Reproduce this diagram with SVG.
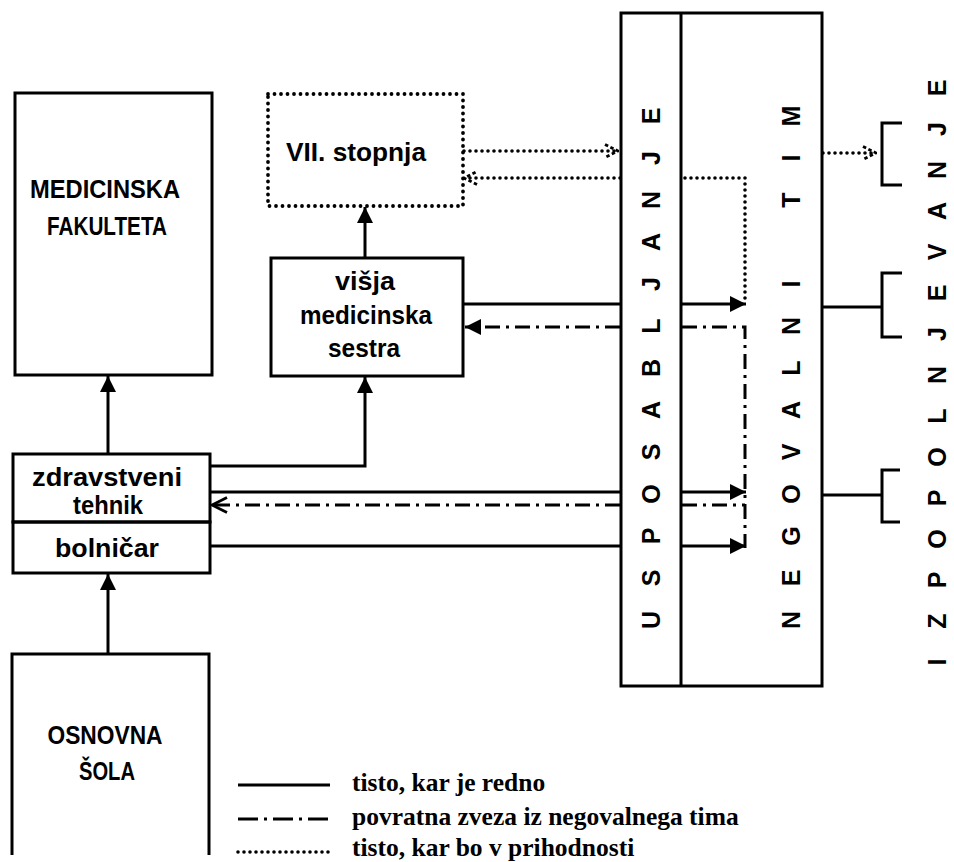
<svg xmlns="http://www.w3.org/2000/svg" width="954" height="862" viewBox="0 0 954 862">
<style>
.bg{fill:#fff}
.box{fill:none;stroke:#000;stroke-width:3}
.dbox{fill:none;stroke:#000;stroke-width:3.8;stroke-dasharray:0 6.5;stroke-linecap:round}
.ln{fill:none;stroke:#000;stroke-width:3}
.dd{fill:none;stroke:#000;stroke-width:3;stroke-dasharray:15 6 3 6}
.dt{fill:none;stroke:#000;stroke-width:3.6;stroke-dasharray:0 6;stroke-linecap:round}
.lbl{font-family:"Liberation Sans","DejaVu Sans",sans-serif;font-weight:bold;font-size:26px;text-anchor:middle;fill:#000}
.vl{font-family:"Liberation Sans","DejaVu Sans",sans-serif;font-weight:bold;font-size:25px;text-anchor:middle;dominant-baseline:central;fill:#000}
.leg{font-family:"Liberation Serif","Times New Roman",serif;font-weight:bold;font-size:25.5px;fill:#000}
</style>
<defs>
<marker id="tri" viewBox="0 0 16 16" refX="16" refY="8" markerWidth="16" markerHeight="16" markerUnits="userSpaceOnUse" orient="auto">
<path d="M0,0 L16,8 L0,16 z" fill="#000"/>
</marker>
<marker id="chev" viewBox="0 0 18 18" refX="17" refY="9" markerWidth="18" markerHeight="18" markerUnits="userSpaceOnUse" orient="auto">
<path d="M2,1.5 L17,9 L2,16.5" fill="none" stroke="#000" stroke-width="2.8"/>
</marker>
<marker id="dchev" viewBox="0 0 16 16" refX="15" refY="8" markerWidth="16" markerHeight="16" markerUnits="userSpaceOnUse" orient="auto">
<path d="M2,1.5 L15,8 L2,14.5" fill="none" stroke="#000" stroke-width="2.8" stroke-dasharray="3.5 2.5"/>
</marker>
</defs>
<rect class="bg" x="0" y="0" width="954" height="862"/>

<g id="medicinska-fakulteta">
<rect class="box" x="15" y="93" width="197" height="282"/>
<text class="lbl" x="105" y="198" textLength="150" lengthAdjust="spacingAndGlyphs">MEDICINSKA</text>
<text class="lbl" x="107" y="235" textLength="120" lengthAdjust="spacingAndGlyphs">FAKULTETA</text>
</g>

<g id="vii-stopnja">
<rect class="dbox" x="268" y="94" width="195" height="112"/>
<text class="lbl" x="356" y="161" textLength="140" lengthAdjust="spacingAndGlyphs">VII. stopnja</text>
</g>

<g id="visja-medicinska-sestra">
<rect class="box" x="271" y="258" width="192" height="118"/>
<text class="lbl" x="365" y="290" textLength="60" lengthAdjust="spacingAndGlyphs">višja</text>
<text class="lbl" x="366" y="324" textLength="132" lengthAdjust="spacingAndGlyphs">medicinska</text>
<text class="lbl" x="364" y="357" textLength="72" lengthAdjust="spacingAndGlyphs">sestra</text>
</g>

<g id="zdravstveni-tehnik">
<rect class="box" x="13" y="454" width="197" height="68"/>
<text class="lbl" x="107" y="486" textLength="150" lengthAdjust="spacingAndGlyphs">zdravstveni</text>
<text class="lbl" x="108" y="514" textLength="70" lengthAdjust="spacingAndGlyphs">tehnik</text>
</g>

<g id="bolnicar">
<rect class="box" x="13" y="522" width="197" height="51"/>
<text class="lbl" x="107" y="557" textLength="104" lengthAdjust="spacingAndGlyphs">bolničar</text>
</g>

<g id="osnovna-sola">
<path class="box" d="M12,855 V654 H209 V855"/>
<text class="lbl" x="105" y="744" textLength="115" lengthAdjust="spacingAndGlyphs">OSNOVNA</text>
<text class="lbl" x="107" y="780" textLength="56" lengthAdjust="spacingAndGlyphs">ŠOLA</text>
</g>

<g id="usposabljanje-negovalni-tim">
<rect class="box" x="621" y="13" width="201" height="673"/>
<line class="ln" x1="681" y1="13" x2="681" y2="686"/>
<g class="vl">
<text transform="translate(651,620) rotate(-90)">U</text>
<text transform="translate(651,578) rotate(-90)">S</text>
<text transform="translate(651,536) rotate(-90)">P</text>
<text transform="translate(651,494) rotate(-90)">O</text>
<text transform="translate(651,452) rotate(-90)">S</text>
<text transform="translate(651,410) rotate(-90)">A</text>
<text transform="translate(651,368) rotate(-90)">B</text>
<text transform="translate(651,326) rotate(-90)">L</text>
<text transform="translate(651,284) rotate(-90)">J</text>
<text transform="translate(651,242) rotate(-90)">A</text>
<text transform="translate(651,200) rotate(-90)">N</text>
<text transform="translate(651,158) rotate(-90)">J</text>
<text transform="translate(651,116) rotate(-90)">E</text>
<text transform="translate(791,620) rotate(-90)">N</text>
<text transform="translate(791,578) rotate(-90)">E</text>
<text transform="translate(791,536) rotate(-90)">G</text>
<text transform="translate(791,494) rotate(-90)">O</text>
<text transform="translate(791,452) rotate(-90)">V</text>
<text transform="translate(791,410) rotate(-90)">A</text>
<text transform="translate(791,368) rotate(-90)">L</text>
<text transform="translate(791,326) rotate(-90)">N</text>
<text transform="translate(791,284) rotate(-90)">I</text>
<text transform="translate(791,200) rotate(-90)">T</text>
<text transform="translate(791,158) rotate(-90)">I</text>
<text transform="translate(791,116) rotate(-90)">M</text>
</g>
</g>

<g id="izpopolnjevanje">
<path class="ln" d="M902,123 H882 V185 H902"/>
<path class="ln" d="M902,273 H882 V337 H902"/>
<path class="ln" d="M900,470 H882 V522 H900"/>
<g class="vl">
<text transform="translate(937,662) rotate(-90)">I</text>
<text transform="translate(937,621) rotate(-90)">Z</text>
<text transform="translate(937,580) rotate(-90)">P</text>
<text transform="translate(937,539) rotate(-90)">O</text>
<text transform="translate(937,498) rotate(-90)">P</text>
<text transform="translate(937,457) rotate(-90)">O</text>
<text transform="translate(937,416) rotate(-90)">L</text>
<text transform="translate(937,375) rotate(-90)">N</text>
<text transform="translate(937,334) rotate(-90)">J</text>
<text transform="translate(937,293) rotate(-90)">E</text>
<text transform="translate(937,252) rotate(-90)">V</text>
<text transform="translate(937,211) rotate(-90)">A</text>
<text transform="translate(937,170) rotate(-90)">N</text>
<text transform="translate(937,129) rotate(-90)">J</text>
<text transform="translate(937,88) rotate(-90)">E</text>
</g>
</g>

<g id="connectors">
<path class="ln" d="M108,454 V376" marker-end="url(#tri)"/>
<path class="ln" d="M108,654 V574" marker-end="url(#tri)"/>
<path class="ln" d="M365,258 V207" marker-end="url(#tri)"/>
<path class="ln" d="M211,466 H365 V377" marker-end="url(#tri)"/>
<path class="ln" d="M463,304 H620"/>
<path class="ln" d="M682,304 H746" marker-end="url(#tri)"/>
<path class="ln" d="M211,492 H620"/>
<path class="ln" d="M682,492 H746" marker-end="url(#tri)"/>
<path class="ln" d="M211,546 H620"/>
<path class="ln" d="M682,546 H746" marker-end="url(#tri)"/>
<path class="dd" d="M620,327 H465" marker-end="url(#tri)"/>
<path class="dd" d="M682,327 H745 V548"/>
<path class="dd" d="M620,505 H212" marker-end="url(#chev)"/>
<path class="dd" d="M682,505 H745"/>
<path class="dt" d="M464,151 H618" marker-end="url(#dchev)"/>
<path class="dt" d="M745,298 V178 H682"/>
<path class="dt" d="M620,178 H464" marker-end="url(#dchev)"/>
<path class="dt" d="M823,153 H876" marker-end="url(#dchev)"/>
<path class="ln" d="M823,307 H882"/>
<path class="ln" d="M823,495 H882"/>
</g>

<g id="legend">
<line class="ln" x1="238" y1="785" x2="330" y2="785"/>
<line class="dd" x1="238" y1="819" x2="330" y2="819" style="stroke-dasharray:20 6 3 6"/>
<line class="dt" x1="238" y1="852" x2="330" y2="852"/>
<text class="leg" x="352" y="791">tisto, kar je redno</text>
<text class="leg" x="352" y="825">povratna zveza iz negovalnega tima</text>
<text class="leg" x="352" y="856">tisto, kar bo v prihodnosti</text>
</g>
</svg>
